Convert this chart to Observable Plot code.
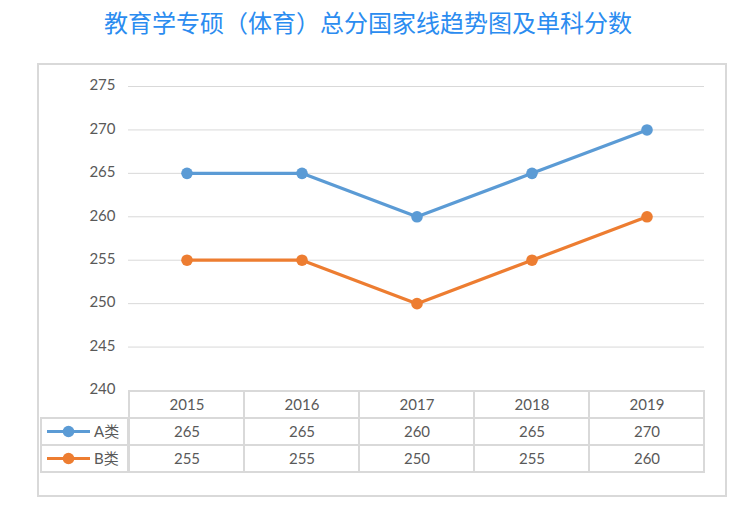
<!DOCTYPE html>
<html><head><meta charset="utf-8">
<script src="https://cdn.jsdelivr.net/npm/d3@7"></script>
<script src="https://cdn.jsdelivr.net/npm/@observablehq/plot@0.6"></script>
<style>
html,body{margin:0;padding:0;background:#fff;}
#wrap{position:relative;width:736px;height:508px;overflow:hidden;font-family:Lato,"Noto Sans CJK SC",sans-serif;}
#title{position:absolute;left:0;top:6px;width:736px;text-align:center;font-family:"Noto Sans CJK SC",sans-serif;font-size:24px;line-height:32px;color:#2b8cf0;letter-spacing:0px;}
#box{position:absolute;left:37px;top:63px;width:690px;height:434px;border:2px solid #d9d9d9;box-sizing:border-box;}
#chart,#table{position:absolute;left:0;}
#chart svg,#table svg{overflow:visible;background:transparent;}
</style></head>
<body><div id="wrap"><div id="title">教育学专硕（体育）总分国家线趋势图及单科分数</div><div id="box"></div><div id="chart"></div><div id="table"></div></div>
<script>
const years = ["2015","2016","2017","2018","2019"];
const seriesNames = ["A类","B类"];
const valuesA = [265,265,260,265,270];
const valuesB = [255,255,250,255,260];
const seriesColors = ["#5b9bd5","#ed7d31"];
const yTicks = [240,245,250,255,260,265,270,275];
const headerRow = "年份";

const rows = [];
years.forEach((yr,i)=>{
  rows.push({year:yr, series:seriesNames[0], value:valuesA[i]});
  rows.push({year:yr, series:seriesNames[1], value:valuesB[i]});
});

const font = "Lato, 'Noto Sans CJK SC', sans-serif";
const textColor = "#595959";

const chart = Plot.plot({
  width:736, height:337,
  marginLeft:128, marginRight:32, marginTop:23, marginBottom:10,
  style:{fontFamily:font, fontSize:"15px", color:textColor, background:"transparent"},
  x:{type:"band", domain:years, padding:0, axis:null},
  y:{domain:[240,275], ticks:yTicks, label:null},
  color:{domain:seriesNames, range:seriesColors},
  marks:[
    Plot.gridY(yTicks.slice(1), {stroke:"#d9d9d9", strokeOpacity:1, strokeWidth:1}),
    Plot.axisY(yTicks, {tickSize:0, tickPadding:13, fill:textColor, fontSize:15, dy:-1, label:null}),
    Plot.line(rows, {x:"year", y:"value", z:"series", stroke:"series", strokeWidth:3.2, curve:"linear"}),
    Plot.dot(rows, {x:"year", y:"value", fill:"series", r:5.8})
  ]
});
document.getElementById("chart").style.top = "63px";
document.getElementById("chart").appendChild(chart);

// table below chart
const tableCells = [];
years.forEach((yr,i)=>{
  tableCells.push({year:yr, row:headerRow, label:yr});
  tableCells.push({year:yr, row:seriesNames[0], label:String(valuesA[i])});
  tableCells.push({year:yr, row:seriesNames[1], label:String(valuesB[i])});
});
const table = Plot.plot({
  width:736, height:83,
  marginLeft:128, marginRight:32, marginTop:0, marginBottom:0,
  style:{fontFamily:font, fontSize:"15px", color:textColor, background:"transparent"},
  x:{type:"band", domain:years, padding:0, axis:null},
  y:{type:"band", domain:[headerRow, ...seriesNames], padding:0, axis:null},
  marks:[
    Plot.cell(tableCells, {x:"year", y:"row", fill:"none", stroke:"#d9d9d9", strokeWidth:2}),
    Plot.text(tableCells, {x:"year", y:"row", text:"label", fill:textColor, fontSize:15})
  ]
});
document.getElementById("table").style.top = "390px";
document.getElementById("table").appendChild(table);

// left label column of the table, positioned with the table's own y scale
const ys = table.scale("y");
const xs = table.scale("x");
const svg = d3.select(table);
const leftX = 41, rightX = xs.range[0];
const g = svg.append("g").attr("text-anchor","start");
seriesNames.forEach((name,i)=>{
  const y0 = ys.apply(name), bw = ys.bandwidth, cy = y0 + bw/2;
  g.append("rect").attr("x",leftX).attr("y",y0).attr("width",rightX-leftX).attr("height",bw)
    .attr("fill","none").attr("stroke","#d9d9d9").attr("stroke-width",2);
  g.append("line").attr("x1",47).attr("x2",90).attr("y1",cy).attr("y2",cy)
    .attr("stroke",seriesColors[i]).attr("stroke-width",3.2);
  g.append("circle").attr("cx",68.5).attr("cy",cy).attr("r",5.8).attr("fill",seriesColors[i]);
  g.append("text").attr("x",94).attr("y",cy).attr("dy","0.35em").attr("text-anchor","start")
    .attr("fill",textColor).attr("font-size",15).attr("font-family",font).text(name);
});
</script></body></html>
